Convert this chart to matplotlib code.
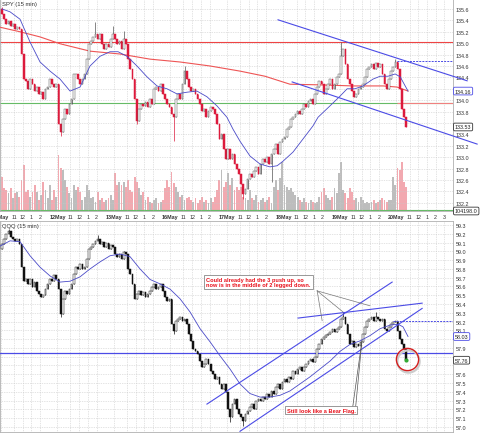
import numpy as np
import matplotlib.pyplot as plt

plt.rcParams['font.family'] = ['Liberation Sans', 'DejaVu Sans']

days = ['11May', '12May', '13May', '16May', '17May', '18May', '19May', '20May']
hours = ['11', '12', '1', '2']

# SPY 15 min closes, 26 bars a day (20May only 5 bars)
spy_open0 = 135.60
spy_close = [
    135.51, 135.42, 135.34, 135.39, 135.30, 135.34, 135.25, 135.28, 135.25, 134.81, 134.37, 134.34, 134.20,
    134.37, 134.28, 134.16, 134.23, 134.11, 134.14, 134.02, 134.20, 134.23, 134.37, 134.28, 134.23, 134.28,
    133.58, 133.44, 133.67, 133.85, 133.76, 133.93, 134.02, 134.46, 134.46, 134.37, 134.28, 134.37, 134.46,
    134.72, 134.99, 135.04, 135.11, 135.16, 135.07, 135.16, 134.99, 134.90, 134.99, 134.93, 135.07, 135.16,
    135.07, 134.99, 135.04, 134.90, 135.07, 134.99, 134.72, 134.55, 134.37, 134.02, 133.63, 133.85, 133.93,
    133.90, 133.97, 133.88, 134.02, 133.93, 134.20, 134.23, 134.16, 134.28, 134.11, 134.02, 133.93, 133.88,
    133.76, 133.70, 134.02, 134.11, 134.02, 134.28, 134.51, 134.37, 134.23, 134.16, 134.20, 134.11, 134.02,
    133.93, 133.81, 133.85, 133.70, 133.81, 133.88, 133.85, 133.76, 133.58, 133.32, 133.41, 133.14, 132.97,
    133.14, 132.97, 133.06, 132.88, 132.79, 132.70, 132.53, 132.35, 132.44, 132.62, 132.70, 132.65, 132.76,
    132.83, 132.70, 132.88, 132.97, 132.91, 133.00, 132.88, 133.06, 133.14, 133.23, 133.06, 133.27, 133.32,
    133.35, 133.49, 133.53, 133.67, 133.70, 133.76, 133.81, 133.76, 133.85, 133.93, 133.88, 133.99, 134.02,
    133.93, 134.11, 134.23, 134.34, 134.28, 134.11, 134.20, 134.28, 134.37, 134.20, 134.28, 134.41, 134.46,
    134.77, 134.90, 134.64, 134.37, 134.28, 134.16, 134.06, 134.11, 134.20, 134.23, 134.28, 134.41, 134.55,
    134.58, 134.64, 134.55, 134.65, 134.58, 134.64, 134.46, 134.28, 134.20, 134.37, 134.51, 134.58, 134.67,
    134.55, 134.20, 133.85, 133.70, 133.53,
]
spy_high = {0: 135.63, 43: 135.37, 51: 135.30, 56: 135.21, 84: 134.60, 156: 135.02, 181: 134.72}
spy_low = {27: 133.38, 62: 133.58, 79: 133.28, 111: 132.27, 124: 132.56}
spy_vol = [
    34, 23, 21, 18, 23, 13, 18, 19, 14, 31, 46, 19, 21, 14, 19, 26, 19, 11, 16, 29, 21, 13, 26, 11, 21, 14,
    56, 43, 41, 31, 24, 18, 13, 26, 21, 24, 19, 11, 14, 26, 21, 13, 14, 9, 19, 11, 13, 9, 11, 13, 16, 11,
    38, 26, 29, 26, 29, 24, 31, 21, 19, 34, 29, 23, 16, 19, 11, 14, 9, 8, 11, 13, 8, 9, 11, 23, 31, 24,
    39, 28, 24, 19, 14, 16, 11, 13, 14, 11, 9, 13, 8, 11, 14, 9, 11, 8, 13, 9, 14, 21, 31, 41, 24, 29,
    38, 26, 33, 21, 24, 21, 24, 14, 13, 11, 21, 13, 11, 16, 9, 11, 13, 9, 11, 14, 8, 24, 31, 21, 33, 49,
    26, 24, 21, 23, 19, 16, 14, 11, 9, 13, 9, 8, 11, 9, 8, 9, 14, 19, 23, 16, 13, 11, 14, 23, 18, 38,
    49, 21, 18, 13, 23, 19, 11, 13, 9, 14, 11, 8, 9, 8, 9, 11, 8, 9, 11, 13, 11, 9, 11, 11, 34, 26,
    43, 41, 49, 29, 24,
]
spy_ma_x = [0, 3.7, 8.3, 12.9, 17.5, 22.1, 26.7, 31.3, 35.9, 40.5, 45.1, 49.7, 53.4, 57.5, 62.1, 66.7, 71.3,
            75.9, 80.5, 85.1, 89.7, 94.3, 98.9, 103.5, 106.3, 109.5, 114.1, 118.7, 123.3, 126.6, 129.3, 133.9,
            138.5, 143.1, 145.4, 150.9, 155.5, 158.8, 162.4, 166.1, 170.7, 174.0, 177.6, 180.9, 183.2, 185.5, 186.8]
spy_ma = [135.60, 135.55, 135.42, 135.02, 134.67, 134.51, 134.37, 134.16, 134.23, 134.60, 134.77, 134.85,
          134.85, 134.77, 134.60, 134.41, 134.25, 134.20, 134.11, 134.14, 134.16, 134.06, 133.90, 133.70,
          133.49, 133.28, 133.02, 132.88, 132.83, 132.85, 132.93, 133.09, 133.32, 133.55, 133.70, 133.90,
          134.07, 134.20, 134.20, 134.25, 134.37, 134.42, 134.42, 134.46, 134.41, 134.25, 134.16]
spy_ma_long_x = [-0.9, 8.3, 17.5, 26.7, 40.5, 54.3, 68.1, 81.9, 95.7, 109.5, 121.0, 132.5, 145.0, 161.5,
                 175.3, 181.8, 186.8]
spy_ma_long = [135.28, 135.20, 135.11, 134.99, 134.86, 134.81, 134.72, 134.67, 134.60, 134.51, 134.42,
               134.28, 134.27, 134.25, 134.25, 134.23, 134.16]
spy_resist = 135.02
spy_support = 133.95
spy_dash = 134.69
spy_upper = ([127.0, 214.0], [135.41, 134.34])
spy_lower = ([133.5, 218.6], [134.32, 133.23])
spy_vol_last = '104198.0'

# QQQ 15 min closes
qqq_open0 = 59.03
qqq_close = [
    59.08, 59.14, 59.20, 59.23, 59.16, 59.14, 59.12, 59.14, 59.08, 58.82, 58.66, 58.68, 58.63, 58.68,
    58.59, 58.65, 58.55, 58.51, 58.48, 58.50, 58.57, 58.63, 58.68, 58.66, 58.73, 58.68,
    58.57, 58.29, 58.46, 58.55, 58.51, 58.57, 58.63, 58.74, 58.82, 58.80, 58.86, 58.80, 58.82, 58.91,
    59.03, 59.05, 59.08, 59.12, 59.14, 59.08, 59.11, 59.05, 59.10, 59.03, 59.07, 59.05,
    58.97, 58.94, 58.97, 58.91, 58.99, 58.97, 58.80, 58.74, 58.63, 58.46, 58.51, 58.55, 58.50, 58.54,
    58.48, 58.51, 58.55, 58.59, 58.63, 58.57, 58.59, 58.63, 58.55, 58.48, 58.43, 58.46,
    58.17, 58.09, 58.21, 58.23, 58.25, 58.21, 58.23, 58.17, 58.06, 57.98, 57.89, 57.86, 57.83, 57.75,
    57.68, 57.72, 57.77, 57.72, 57.64, 57.60, 57.55, 57.57, 57.49, 57.43, 57.49, 57.40,
    57.20, 57.11, 57.26, 57.32, 57.20, 57.15, 57.11, 57.07, 57.15, 57.18, 57.23, 57.26, 57.20, 57.30,
    57.32, 57.30, 57.34, 57.32, 57.38, 57.34, 57.41, 57.38, 57.46, 57.49, 57.43, 57.51,
    57.55, 57.51, 57.57, 57.55, 57.64, 57.60, 57.66, 57.68, 57.64, 57.68, 57.72, 57.75, 57.77, 57.74,
    57.80, 57.89, 57.94, 58.00, 58.02, 58.05, 58.06, 58.08, 58.12, 58.08, 58.12, 58.14,
    58.23, 58.25, 58.17, 58.06, 57.94, 57.98, 57.91, 57.94, 57.92, 57.97, 58.06, 58.14, 58.21, 58.23,
    58.25, 58.21, 58.25, 58.23, 58.21, 58.23, 58.12, 58.09, 58.14, 58.17, 58.20, 58.21,
    58.09, 58.00, 57.94, 57.89, 57.76,
]
qqq_high = {3: 59.25, 44: 59.19, 56: 59.00, 157: 58.31, 172: 58.31}
qqq_low = {27: 58.25, 79: 58.06, 105: 57.06, 111: 57.01}
qqq_ma_x = [-0.9, 3.7, 8.3, 12.9, 17.5, 22.1, 26.7, 31.3, 35.9, 40.5, 45.1, 49.7, 54.3, 58.9, 63.5, 68.1,
            72.7, 77.3, 81.9, 86.5, 91.1, 95.7, 100.3, 104.9, 109.5, 114.1, 118.7, 123.3, 127.9, 132.5,
            137.1, 141.7, 146.3, 150.9, 155.5, 160.1, 164.7, 169.3, 174.0, 178.6, 182.2, 184.5, 186.8]
qqq_ma = [59.06, 59.12, 59.11, 58.95, 58.82, 58.72, 58.65, 58.66, 58.71, 58.80, 58.88, 58.95, 58.97, 58.94,
          58.80, 58.68, 58.63, 58.57, 58.46, 58.31, 58.12, 57.97, 57.81, 57.66, 57.49, 57.38, 57.34, 57.34,
          57.36, 57.41, 57.49, 57.57, 57.66, 57.75, 57.86, 57.94, 57.98, 58.04, 58.12, 58.16, 58.17, 58.14,
          58.03]
qqq_level = 57.84
qqq_dash = 58.21
qqq_line_a = ([94.3, 179.5], [57.26, 58.65])
qqq_line_b = ([109.5, 193.3], [56.95, 58.35])
qqq_line_c = ([136.2, 193.3], [58.24, 58.41])
note1 = 'Could already had the 3 push up, so\nnow is in the middle of 2 legged down.'
note2 = 'Still look like a Bear Flag.'

BLUE = '#4b4be6'
W, H = 480, 435
fig = plt.figure(figsize=(W / 100, H / 100), dpi=100)
XL = (-0.92, 207.5)

tick_pos, tick_lab = [], []
for d, day in enumerate(days):
    tick_pos.append(26 * d - 0.5)
    tick_lab.append(day)
    for k, h in zip([6, 10, 14, 18], hours):
        tick_pos.append(26 * d + k - 0.5)
        tick_lab.append(h)
tick_pos.append(26 * 7 + 22 - 0.5)
tick_lab.append('3')


def candles(ax, open0, close, highs, lows, up_face, up_edge, dn_face, dn_edge):
    close = np.array(close)
    opn = np.r_[open0, close[:-1]]
    x = np.arange(len(close))
    hi = np.maximum(opn, close)
    lo = np.minimum(opn, close)
    for i, v in highs.items():
        hi[i] = v
    for i, v in lows.items():
        lo[i] = v
    up = close >= opn
    ax.vlines(x, lo, hi, colors=np.where(up, up_edge, dn_edge), lw=0.5, zorder=4)
    body = np.maximum(np.abs(close - opn), 0.008)
    ax.bar(x, body, bottom=np.minimum(opn, close), width=0.78,
           color=np.where(up, up_face, dn_face), edgecolor=np.where(up, up_edge, dn_edge),
           lw=0.35, zorder=5)
    return up


def style(ax, ylim, yticks, boxed, gap):
    ax.set_xlim(*XL)
    ax.set_ylim(*ylim)
    ax.yaxis.tick_right()
    ax.set_yticks(yticks)
    # labels covered by the value boxes are left out, as in the original
    labs = ['' if any(abs(v - b) < gap for b in boxed) else '%.1f' % v for v in yticks]
    ax.set_yticklabels(labs)
    ax.set_xticks(tick_pos)
    ax.tick_params(length=0, labelsize=3.9, colors='#333333', pad=2)
    ax.grid(True, color='#c8c8c8', ls=(0, (1, 1.5)), lw=0.5)
    for s in ax.spines.values():
        s.set_color('#b0b0b0')
        s.set_linewidth(0.6)


def price_box(ax, y, txt, ec, transform=None):
    ax.text(1.004, y, txt, transform=transform or ax.get_yaxis_transform(), fontsize=3.9,
            va='center', ha='left', color='#222222', zorder=10, clip_on=False,
            bbox=dict(boxstyle='round,pad=0.25', fc='white', ec=ec, lw=0.6))


# ---------- SPY ----------
pos_top = [0, 1 - 212 / H, 453 / W, 212 / H]
axv = fig.add_axes(pos_top)
axv.set_xlim(*XL)
axv.set_ylim(0, 212)
axv.axis('off')
ax1 = fig.add_axes(pos_top, facecolor='none')
style(ax1, (132.056, 135.775), np.round(np.arange(132.2, 135.61, 0.2), 1),
      [spy_ma[-1], spy_close[-1]], 0.1)
ax1.set_xticklabels(tick_lab)
for t, lab in zip(ax1.get_xticklabels(), tick_lab):
    if 'May' in lab:
        t.set_fontweight('bold')

up_spy = candles(ax1, spy_open0, spy_close, spy_high, spy_low,
                 'white', '#555555', '#dc1a3c', '#dc1a3c')
axv.bar(np.arange(len(spy_vol)), spy_vol, width=0.85,
        color=np.where(up_spy, '#bdbdbd', '#f2a9b0'), zorder=1)
axv.axhline(0.8, color='#66bb66', lw=0.8)

ax1.plot(spy_ma_long_x, spy_ma_long, color='#ee5555', lw=0.8, zorder=3)
ax1.plot(spy_ma_x, spy_ma, color='#4a4ac8', lw=0.6, zorder=6)
ax1.axhline(spy_resist, color='#ee4444', lw=0.8, zorder=2)
ax1.axhline(spy_support, color='#66bb66', lw=0.8, zorder=2)
ax1.hlines(spy_support, 181.8, XL[1], color='#f08080', lw=0.8, zorder=2)
ax1.hlines(spy_dash, 181.8, XL[1], color=BLUE, lw=0.7, ls=(0, (2, 1.2)), zorder=6)
ax1.plot(*spy_upper, color=BLUE, lw=0.8, zorder=6, clip_on=False)
ax1.plot(*spy_lower, color=BLUE, lw=0.8, zorder=6, clip_on=False)
ax1.text(0.004, 0.992, 'SPY (15 min)', transform=ax1.transAxes, fontsize=4.2, va='top', color='#333333')
price_box(ax1, spy_ma[-1], '%.2f' % spy_ma[-1], BLUE)
price_box(ax1, spy_close[-1], '%.2f' % spy_close[-1], '#333333')
price_box(ax1, 0.0, spy_vol_last, '#333333', ax1.transAxes)

# ---------- QQQ ----------
ax2 = fig.add_axes([0, 1 - 433 / H, 453 / W, 211 / H])
style(ax2, (56.942, 59.346), np.round(np.arange(57.0, 59.31, 0.1), 1),
      [qqq_ma[-1], qqq_close[-1]], 0.065)
ax2.set_xticklabels([])
candles(ax2, qqq_open0, qqq_close, qqq_high, qqq_low, 'white', '#111111', '#111111', '#111111')
ax2.plot(qqq_ma_x, qqq_ma, color='#4a4ac8', lw=0.6, zorder=6)
ax2.axhline(qqq_level, color=BLUE, lw=0.9, zorder=3)
ax2.hlines(qqq_dash, 180.0, XL[1], color=BLUE, lw=0.7, ls=(0, (2, 1.2)), zorder=6)
for ln in (qqq_line_a, qqq_line_b, qqq_line_c):
    ax2.plot(*ln, color=BLUE, lw=0.8, zorder=6)
ax2.text(0.004, 0.992, 'QQQ (15 min)', transform=ax2.transAxes, fontsize=4.2, va='top', color='#333333')
price_box(ax2, qqq_ma[-1], '%.2f' % qqq_ma[-1], BLUE)
price_box(ax2, qqq_close[-1], '%.2f' % qqq_close[-1], '#333333')

# callouts
for tx, ty in [(147.3, 58.21), (156.9, 58.31), (169.3, 58.38)]:
    ax2.plot([145.0, tx], [58.55, ty], color='#777777', lw=0.5, zorder=7)
for sx in (161.2, 162.6):
    ax2.plot([sx, 165.6], [57.20, 57.98], color='#555555', lw=0.5, zorder=7)
ax2.text(94.0, 58.65, note1, fontsize=4.1, fontweight='bold', color='#e8101a', va='center', ha='left',
         linespacing=1.15, zorder=9,
         bbox=dict(boxstyle='square,pad=0.35', fc='white', ec='#888888', lw=0.6))
ax2.text(131.0, 57.19, note2, fontsize=4.1, fontweight='bold', color='#e8101a', va='center', ha='left',
         zorder=9, bbox=dict(boxstyle='square,pad=0.3', fc='white', ec='#888888', lw=0.6))
ax2.plot(186.7, 57.75, 'o', ms=16, mfc='none', mec='#cccccc', mew=1.6, zorder=7)
ax2.plot(186.3, 57.77, 'o', ms=16, mfc='none', mec='#d41e1e', mew=1.0, zorder=8)
ax2.plot(len(qqq_close) - 1, qqq_close[-1], 'o', ms=2, color='#33aa33', zorder=8)

fig.savefig('out.png', dpi=100)
